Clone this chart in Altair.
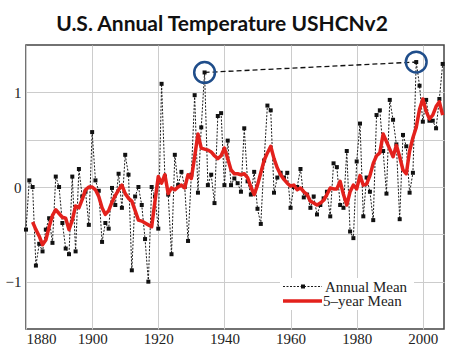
import altair as alt
import pandas as pd

# ---------------- data ----------------
years = list(range(1880, 2007))
annual_mean = [
    -0.45, 0.07, 0.00, -0.83, -0.60, -0.68, -0.45, -0.33, -0.59, 0.11,   # 1880s
    0.00, -0.38, -0.65, -0.71, 0.11, -0.68, 0.19, -0.10, -0.05, -0.40,   # 1890s
    0.58, 0.07, -0.04, -0.58, -0.38, -0.44, -0.01, -0.19, 0.14, -0.22,   # 1900s
    0.34, 0.13, -0.88, -0.10, 0.00, -0.19, -0.55, -1.00, 0.00, -0.10,    # 1910s
    -0.44, 1.09, 0.11, -0.08, -0.71, 0.34, 0.02, 0.16, 0.00, -0.57,      # 1920s
    0.13, 0.97, -0.06, 0.63, 1.21, 0.02, 0.13, -0.17, 0.75, 0.78,        # 1930s
    0.02, 0.49, 0.02, 0.09, 0.04, -0.05, 0.62, 0.06, -0.08, 0.16,        # 1940s
    -0.23, -0.39, 0.28, 0.86, 0.81, -0.06, 0.10, 0.15, 0.10, 0.15,       # 1950s
    -0.22, 0.00, 0.00, 0.19, -0.11, -0.08, -0.22, -0.10, -0.29, -0.19,   # 1960s
    -0.12, -0.05, -0.31, 0.25, 0.21, -0.19, -0.22, 0.38, -0.47, -0.54,   # 1970s
    0.27, 0.67, -0.31, 0.10, -0.05, -0.35, 0.76, 0.81, 0.38, -0.07,      # 1980s
    0.92, 0.71, 0.45, -0.34, 0.55, 0.43, -0.06, 0.15, 1.32, 1.07,        # 1990s
    0.69, 0.92, 0.70, 0.70, 0.62, 0.93, 1.30,                            # 2000-2006
]

five_year_years = list(range(1882, 2007))
five_year_mean = [
    -0.37, -0.45, -0.52, -0.61, -0.56, -0.42, -0.30, -0.24,              # 1882-1889
    -0.28, -0.32, -0.33, -0.45, -0.35, -0.20, -0.22, -0.13, -0.03, 0.00, # 1890s
    0.00, -0.03, -0.10, -0.22, -0.29, -0.25, -0.16, -0.09, -0.03, 0.02,  # 1900s
    -0.07, -0.12, -0.15, -0.25, -0.35, -0.36, -0.38, -0.40, -0.42, -0.15,# 1910s
    0.11, 0.04, 0.13, -0.07, -0.01, -0.03, 0.00, 0.02, -0.01, 0.13,      # 1920s
    0.09, 0.32, 0.56, 0.41, 0.40, 0.39, 0.37, 0.33, 0.30, 0.33,          # 1930s
    0.41, 0.30, 0.18, 0.14, 0.14, 0.13, 0.14, 0.10, 0.00, -0.08,         # 1940s
    0.02, 0.15, 0.28, 0.36, 0.43, 0.30, 0.20, 0.13, 0.08, 0.04,          # 1950s
    0.01, 0.02, -0.03, -0.01, -0.05, -0.08, -0.15, -0.17, -0.19, -0.17,  # 1960s
    -0.14, -0.08, -0.01, -0.02, -0.02, 0.06, -0.08, -0.19, -0.05, 0.02,  # 1970s
    -0.02, 0.12, 0.02, 0.03, 0.12, 0.25, 0.33, 0.36, 0.56, 0.48,         # 1980s
    0.40, 0.32, 0.44, 0.32, 0.18, 0.14, 0.38, 0.52, 0.63, 0.82,          # 1990s
    0.93, 0.80, 0.72, 0.76, 0.85, 0.90, 0.76,                            # 2000-2006
]

record_years = [1934, 1998]
record_values = [1.21, 1.32]

title_text = "U.S. Annual Temperature USHCNv2"
legend_labels = ["Annual Mean", "5\u2013year Mean"]
x_tick_values = list(range(1880, 2001, 10))
y_tick_values = [-1, -0.5, 0, 0.5, 1]

# ---------------- tables ----------------
annual_df = pd.DataFrame({"year": years, "temp": annual_mean})
five_df = pd.DataFrame({"year": five_year_years, "temp": five_year_mean})
record_df = pd.DataFrame({"year": record_years, "temp": record_values})
one_row = pd.DataFrame({"k": [0]})

SERIF = "Liberation Serif"

x_enc = alt.X(
    "year:Q",
    scale=alt.Scale(domain=[1880, 2006.4], nice=False, zero=False),
    axis=alt.Axis(
        values=x_tick_values,
        labelExpr="datum.value % 20 == 0 ? datum.label : ''",
        format="d",
        title=None,
        grid=True,
        ticks=False,
        domain=False,
        labelOverlap=False,
        labelFont=SERIF,
        labelFontSize=15,
        labelColor="#222222",
        labelPadding=2,
    ),
)
y_enc = alt.Y(
    "temp:Q",
    scale=alt.Scale(domain=[-1.5, 1.5], nice=False, zero=False),
    axis=alt.Axis(
        values=y_tick_values,
        labelExpr="datum.value == 1 ? '1' : datum.value == 0 ? '0' : datum.value == -1 ? '\u22121' : ''",
        title=None,
        grid=True,
        ticks=False,
        domain=False,
        labelOverlap=False,
        labelFont=SERIF,
        labelFontSize=15,
        labelColor="#222222",
        labelPadding=5,
    ),
)

annual_line = alt.Chart(annual_df).mark_line(
    color="#1a1a1a", strokeWidth=1, strokeDash=[2, 1.5]
).encode(x=x_enc, y=y_enc)

annual_pts = alt.Chart(annual_df).mark_square(
    color="#111111", size=16, opacity=1
).encode(x="year:Q", y="temp:Q")

five_line = alt.Chart(five_df).mark_line(
    color="#e3211c", strokeWidth=3.5, strokeJoin="round"
).encode(x="year:Q", y="temp:Q")

record_link = alt.Chart(record_df).mark_line(
    color="#111111", strokeWidth=1.3, strokeDash=[5, 3]
).encode(x="year:Q", y="temp:Q")

record_rings = alt.Chart(record_df).mark_point(
    shape="circle", size=430, filled=False, stroke="#1f4d8a", strokeWidth=2.5, opacity=1
).encode(x="year:Q", y="temp:Q")

# ---------------- title (as text above the plot) ----------------
title_mark = alt.Chart(one_row).mark_text(
    align="center", baseline="alphabetic", font="Lato", fontSize=21,
    fontWeight="bold", color="#111111"
).encode(x=alt.value(196), y=alt.value(-14), text=alt.value(title_text))

# ---------------- legend (drawn inside the plot, lower right) ----------------
leg_bg = alt.Chart(one_row).mark_rect(color="white").encode(
    x=alt.value(254), x2=alt.value(388), y=alt.value(233), y2=alt.value(265)
)
leg_dot = alt.Chart(one_row).mark_rule(
    color="#1a1a1a", strokeWidth=1, strokeDash=[2, 1.5]
).encode(x=alt.value(257), x2=alt.value(296), y=alt.value(241.5))
leg_sq = alt.Chart(one_row).mark_square(color="#111111", size=16, opacity=1).encode(
    x=alt.value(277), y=alt.value(241.5)
)
leg_red = alt.Chart(one_row).mark_rule(color="#e3211c", strokeWidth=3.5).encode(
    x=alt.value(257), x2=alt.value(296), y=alt.value(256)
)
leg_t1 = alt.Chart(one_row).mark_text(
    align="left", baseline="alphabetic", font=SERIF, fontSize=15, color="#222222"
).encode(x=alt.value(299), y=alt.value(246.5), text=alt.value(legend_labels[0]))
leg_t2 = alt.Chart(one_row).mark_text(
    align="left", baseline="alphabetic", font=SERIF, fontSize=15, color="#222222"
).encode(x=alt.value(297), y=alt.value(261), text=alt.value(legend_labels[1]))

chart = alt.layer(
    annual_line, annual_pts, five_line, record_link, record_rings,
    leg_bg, leg_dot, leg_sq, leg_red, leg_t1, leg_t2, title_mark,
).properties(
    width=418,
    height=284,
    autosize=alt.AutoSizeParams(type="none"),
    padding={"left": 26, "top": 45, "right": 20, "bottom": 21},
    background="white",
).configure_view(
    stroke="#444444", strokeWidth=1.5
).configure_axis(
    gridColor="#cccccc", gridWidth=1, gridOpacity=1,
    labelFont=SERIF,
)

chart.save("out.html", embed_options={"renderer": "svg", "actions": False})
